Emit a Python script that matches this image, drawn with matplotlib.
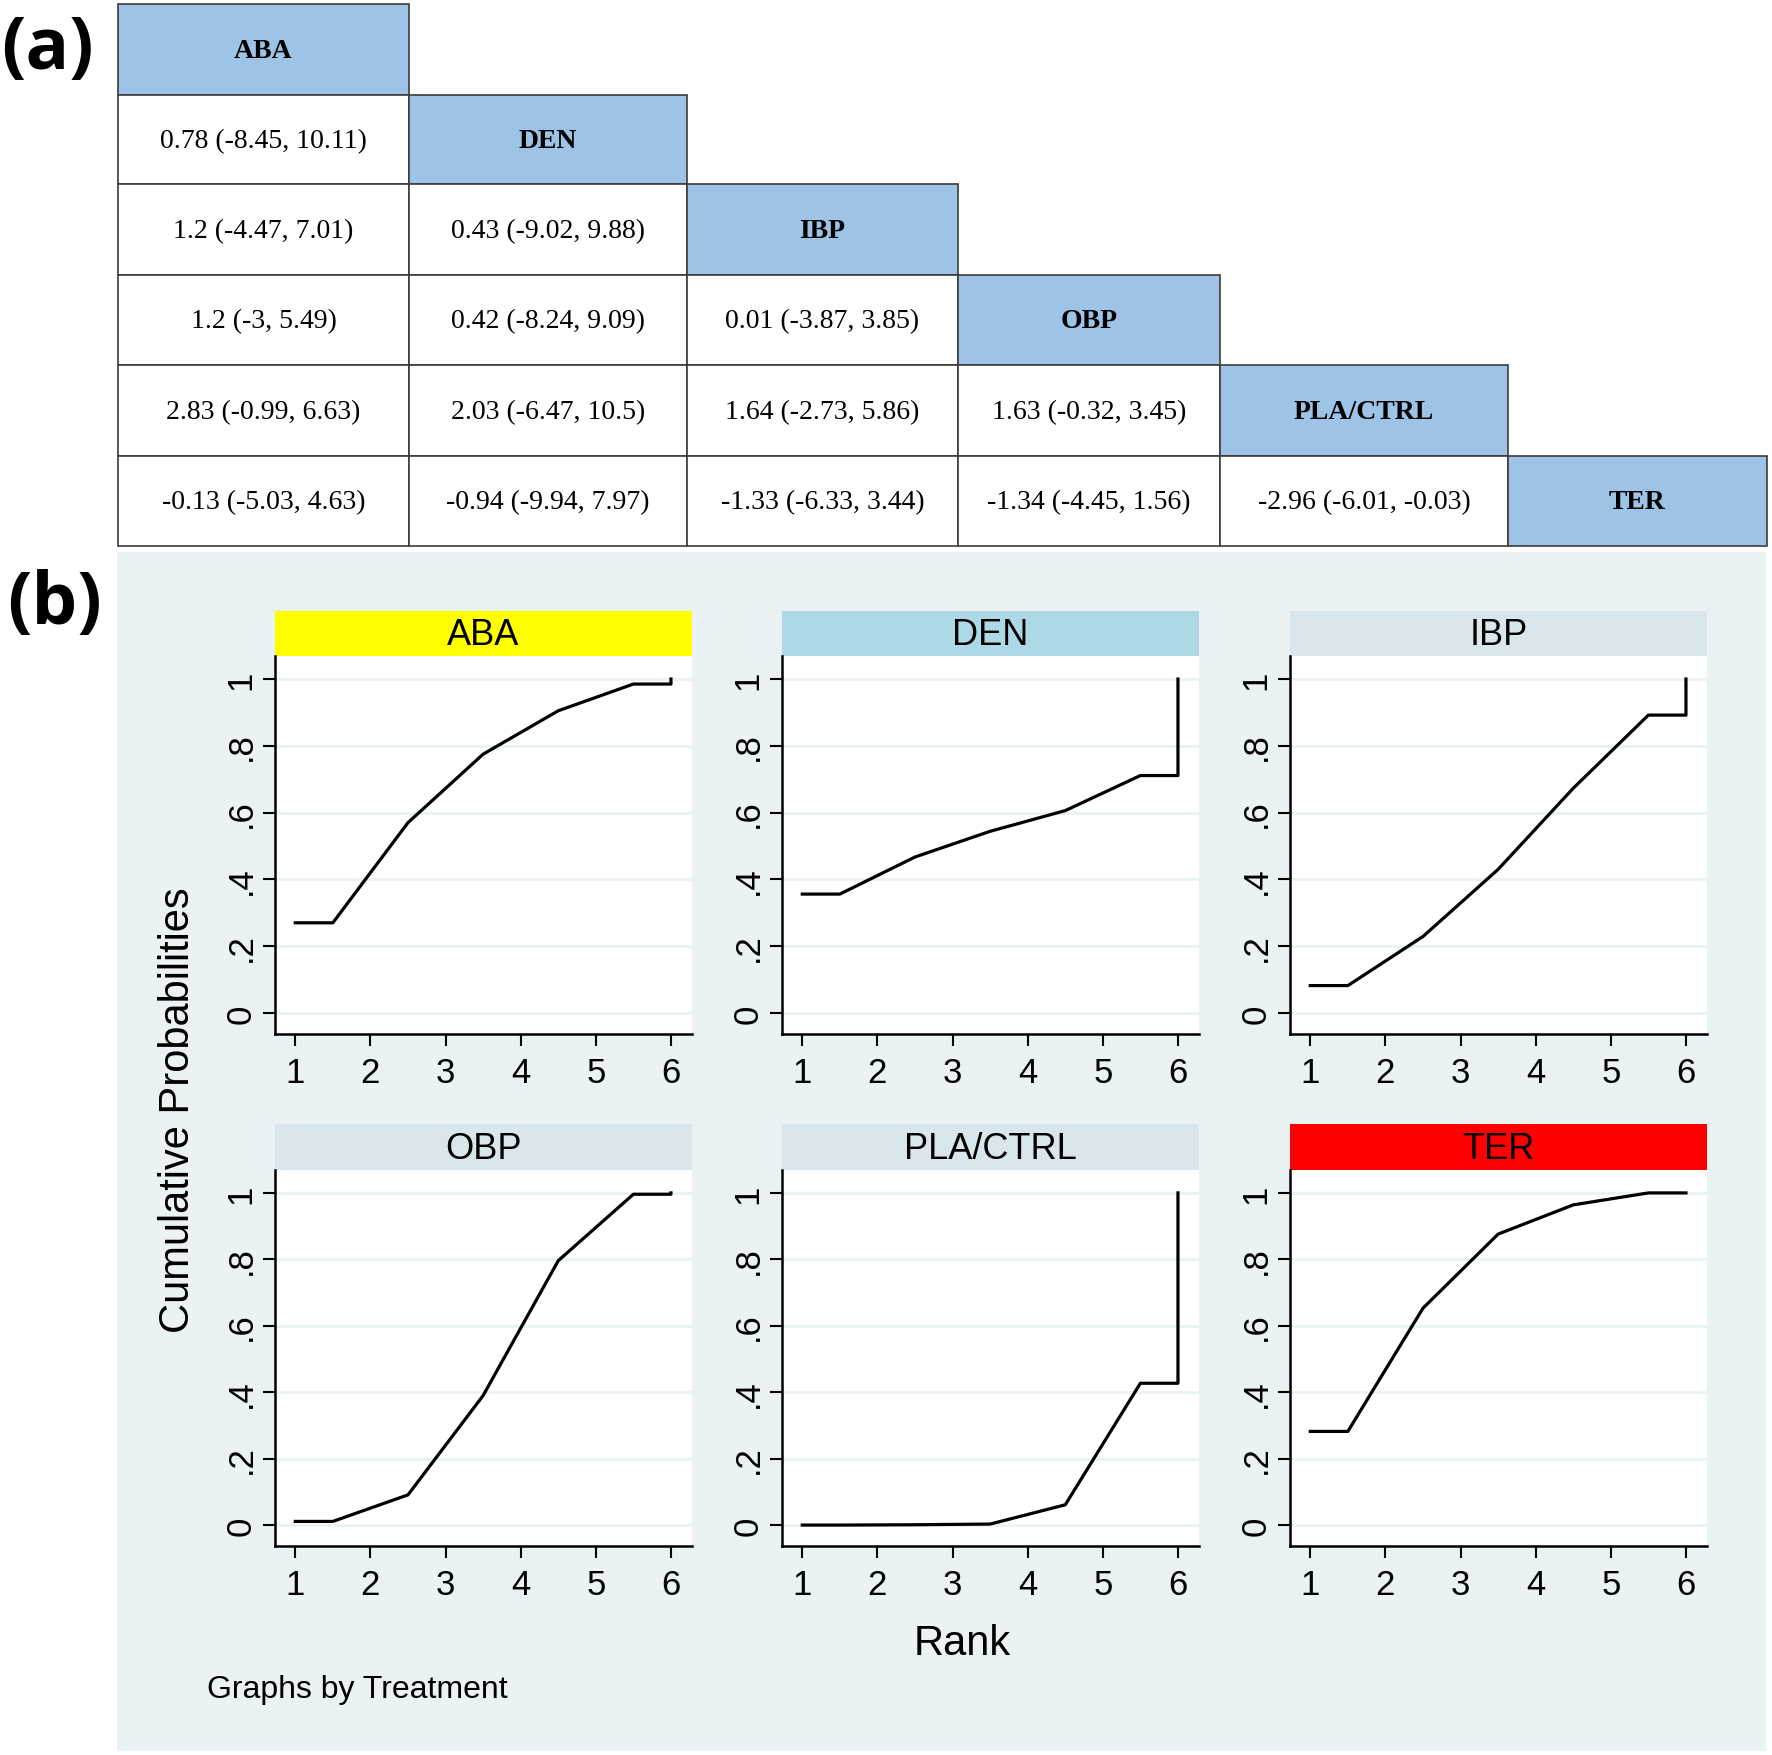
import numpy as np
import matplotlib
matplotlib.use("Agg")
import matplotlib.pyplot as plt
from matplotlib.patches import Rectangle

plt.rcParams['font.family'] = ['Liberation Sans', 'DejaVu Sans']

# ---- data ----
treatments = ['ABA', 'DEN', 'IBP', 'OBP', 'PLA/CTRL', 'TER']

den_row = ['0.78 (-8.45, 10.11)']
ibp_row = ['1.2 (-4.47, 7.01)', '0.43 (-9.02, 9.88)']
obp_row = ['1.2 (-3, 5.49)', '0.42 (-8.24, 9.09)', '0.01 (-3.87, 3.85)']
pla_row = ['2.83 (-0.99, 6.63)', '2.03 (-6.47, 10.5)', '1.64 (-2.73, 5.86)',
           '1.63 (-0.32, 3.45)']
ter_row = ['-0.13 (-5.03, 4.63)', '-0.94 (-9.94, 7.97)', '-1.33 (-6.33, 3.44)',
           '-1.34 (-4.45, 1.56)', '-2.96 (-6.01, -0.03)']
league_rows = [[], den_row, ibp_row, obp_row, pla_row, ter_row]

ranks = np.array([1, 2, 3, 4, 5, 6])
cum_aba = [0.27, 0.57, 0.775, 0.905, 0.985, 1.0]
cum_den = [0.356, 0.467, 0.544, 0.606, 0.711, 1.0]
cum_ibp = [0.082, 0.229, 0.43, 0.673, 0.892, 1.0]
cum_obp = [0.011, 0.091, 0.39, 0.796, 0.996, 1.0]
cum_pla = [0.0, 0.001, 0.003, 0.061, 0.427, 1.0]
cum_ter = [0.282, 0.653, 0.876, 0.964, 1.0, 1.0]
cum_probs = [cum_aba, cum_den, cum_ibp, cum_obp, cum_pla, cum_ter]
yticks = [0, 0.2, 0.4, 0.6, 0.8, 1.0]
ytick_labels = ['0', '.2', '.4', '.6', '.8', '1']

strip_colors = ['#ffff00', '#add8e6', '#d9e6eb', '#d9e6eb', '#d9e6eb', '#ff0000']

# ---- layout (pixels) ----
W, H = 1772, 1756
fig = plt.figure(figsize=(W / 100, H / 100), dpi=100)
fig.patch.set_facecolor('white')


def px_axes(x0, y0, x1, y1, **kw):
    return fig.add_axes([x0 / W, 1 - y1 / H, (x1 - x0) / W, (y1 - y0) / H], **kw)


canvas = px_axes(0, 0, W, H)
canvas.set_xlim(0, W)
canvas.set_ylim(H, 0)
canvas.axis('off')

# panel labels
canvas.text(1, 50, '(a)', fontsize=52, fontweight='bold', family='Open Sans',
            ha='left', va='center')
canvas.text(7, 605, '(b)', fontsize=52, fontweight='bold', family='Open Sans',
            ha='left', va='center')

# ---- (a) league table ----
col_edges = [118, 409, 687, 958, 1220, 1508, 1767]
row_edges = [5, 96, 185, 276, 366, 457, 547]
for i, name in enumerate(treatments):
    y0, y1 = row_edges[i], row_edges[i + 1]
    for j in range(i + 1):
        x0, x1 = col_edges[j], col_edges[j + 1]
        header = (j == i)
        canvas.add_patch(Rectangle((x0, y0), x1 - x0, y1 - y0,
                                   facecolor='#9dc3e6' if header else 'white',
                                   edgecolor='#3c3c3c', lw=1.2))
        txt = name if header else league_rows[i][j]
        canvas.text((x0 + x1) / 2, (y0 + y1) / 2 + 1, txt,
                    family='Liberation Serif', fontsize=20,
                    fontweight='bold' if header else 'normal',
                    ha='center', va='center')

# ---- (b) cumulative ranking curves ----
canvas.add_patch(Rectangle((117, 553), 1766 - 117, 1752 - 553,
                           facecolor='#eaf2f3', edgecolor='none', zorder=0))

col_x = [275, 782, 1290]
panel_w = 417
row_y = [(612, 657, 1035), (1125, 1171, 1547)]

knot_x = np.r_[ranks[0], ranks[:-1] + 0.5, ranks[-1], ranks[-1]]

for k, name in enumerate(treatments):
    r, c = divmod(k, 3)
    x0 = col_x[c]
    s0, a0, a1 = row_y[r]

    strip = px_axes(x0, s0, x0 + panel_w, a0)
    strip.set_facecolor(strip_colors[k])
    strip.set_xticks([])
    strip.set_yticks([])
    for sp in strip.spines.values():
        sp.set_visible(False)
    strip.text(0.5, 0.47, name, transform=strip.transAxes, fontsize=26,
               ha='center', va='center')

    ax = px_axes(x0, a0, x0 + panel_w, a1)
    ax.set_facecolor('white')
    cp = cum_probs[k]
    knot_y = np.r_[cp[0], cp[:-1], cp[-2], cp[-1]]
    ax.plot(knot_x, knot_y, color='black', lw=2.3, zorder=3)
    ax.set_xlim(0.73, 6.28)
    ax.set_ylim(-0.063, 1.069)
    ax.set_xticks(ranks)
    ax.set_yticks(yticks)
    ax.set_yticklabels(ytick_labels)
    ax.yaxis.grid(True, color='#eaf2f3', lw=2, zorder=0)
    ax.set_axisbelow(True)
    for side in ['top', 'right']:
        ax.spines[side].set_visible(False)
    for side in ['left', 'bottom']:
        ax.spines[side].set_linewidth(1.8)
        ax.spines[side].set_color('black')
    ax.tick_params(direction='out', length=8.5, width=1.5, labelsize=25,
                   color='black')
    ax.tick_params(axis='x', pad=7)
    ax.tick_params(axis='y', pad=4, labelrotation=90)
    for lab in ax.get_yticklabels():
        lab.set_va('center')

canvas.text(178, 1110, 'Cumulative Probabilities', fontsize=30, rotation=90,
            ha='center', va='center')
canvas.text(962, 1644, 'Rank', fontsize=30, ha='center', va='center')
canvas.text(207, 1690, 'Graphs by Treatment', fontsize=23, ha='left',
            va='center')

fig.savefig('out.png', dpi=100)
